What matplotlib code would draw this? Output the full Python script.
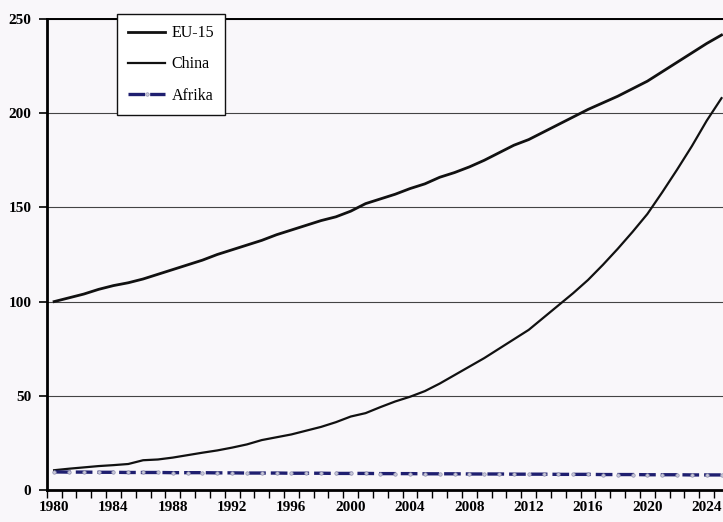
import matplotlib
matplotlib.use("Agg")
import matplotlib.pyplot as plt
from matplotlib.ticker import MultipleLocator, FixedLocator

# values (index, 1980 = 100 for EU-15)
years = list(range(1980, 2026))
eu15 = [100, 102, 104, 106.5, 108.5, 110, 112, 114.5, 117, 119.5,
        122, 125, 127.5, 130, 132.5, 135.5, 138, 140.5, 143, 145,
        148, 152, 154.5, 157, 160, 162.5, 166, 168.5, 171.5, 175,
        179, 183, 186, 190, 194, 198, 202, 205.5, 209, 213,
        217, 222, 227, 232, 237, 241.5]
china = [10.5, 11.3, 12, 12.7, 13.2, 13.8, 15.8, 16.2, 17.2, 18.5,
         19.8, 21, 22.5, 24.2, 26.5, 28, 29.5, 31.5, 33.5, 36,
         39, 40.8, 44, 47, 49.5, 52.5, 56.5, 61, 65.5, 70,
         75, 80, 85, 91.5, 98, 104.5, 111.5, 119.5, 128, 137,
         146.5, 158, 170, 182.5, 196, 208]
afrika = [9.6, 9.5, 9.5, 9.4, 9.4, 9.3, 9.3, 9.3, 9.2, 9.2,
          9.2, 9.1, 9.1, 9.0, 9.0, 9.0, 8.9, 8.9, 8.9, 8.8,
          8.8, 8.8, 8.7, 8.7, 8.7, 8.6, 8.6, 8.6, 8.5, 8.5,
          8.5, 8.4, 8.4, 8.4, 8.3, 8.3, 8.3, 8.2, 8.2, 8.2,
          8.1, 8.1, 8.1, 8.0, 8.0, 8.0]
label_years = list(range(1980, 2025, 4))

plt.rcParams["font.family"] = ["Liberation Serif", "DejaVu Serif"]
bg = "#f9f7fa"

fig = plt.figure(figsize=(7.23, 5.22), dpi=100, facecolor=bg)
ax = fig.add_axes([0.0646, 0.0613, 0.9354, 0.9023])
ax.set_facecolor(bg)

ax.plot(years, eu15, color="#111111", lw=2.0, label="EU-15", zorder=3)
ax.plot(years, china, color="#111111", lw=1.6, label="China", zorder=3)
ax.plot(years, afrika, color="#1f1f70", lw=2.4, ls=(0, (5, 1.5)),
        marker="o", ms=2.5, mfc="#c8c8d8", mec="#9090b0", mew=0.5,
        label="Afrika", zorder=3)

ax.set_xlim(1979.5, 2025.1)
ax.set_ylim(0, 250)

ax.yaxis.set_major_locator(MultipleLocator(50))
ax.grid(axis="y", color="#444444", lw=0.8, zorder=1)

# category-style axis: ticks between years, labels on every 4th year
ax.xaxis.set_major_locator(FixedLocator(label_years))
ax.xaxis.set_minor_locator(FixedLocator([y - 0.5 for y in years]))
ax.tick_params(axis="x", which="major", length=0, pad=8, labelsize=11)
ax.tick_params(axis="x", which="minor", length=6, width=1.0, direction="out")
ax.tick_params(axis="y", length=6, width=1.2, pad=5, labelsize=11)
for lab in ax.get_xticklabels() + ax.get_yticklabels():
    lab.set_fontweight("bold")

ax.spines["right"].set_visible(False)
ax.spines["left"].set_linewidth(2)
ax.spines["bottom"].set_linewidth(2)
ax.spines["top"].set_linewidth(1.4)

leg = ax.legend(loc="upper left", bbox_to_anchor=(0.162, 0.973),
                bbox_transform=fig.transFigure, borderaxespad=0,
                fontsize=11.5, handlelength=2.3, labelspacing=0.95,
                borderpad=0.7, handletextpad=0.4, fancybox=False,
                framealpha=1, edgecolor="#111111", facecolor="white")
leg.get_frame().set_linewidth(1.0)

fig.savefig("out.png", dpi=100, facecolor=bg)
